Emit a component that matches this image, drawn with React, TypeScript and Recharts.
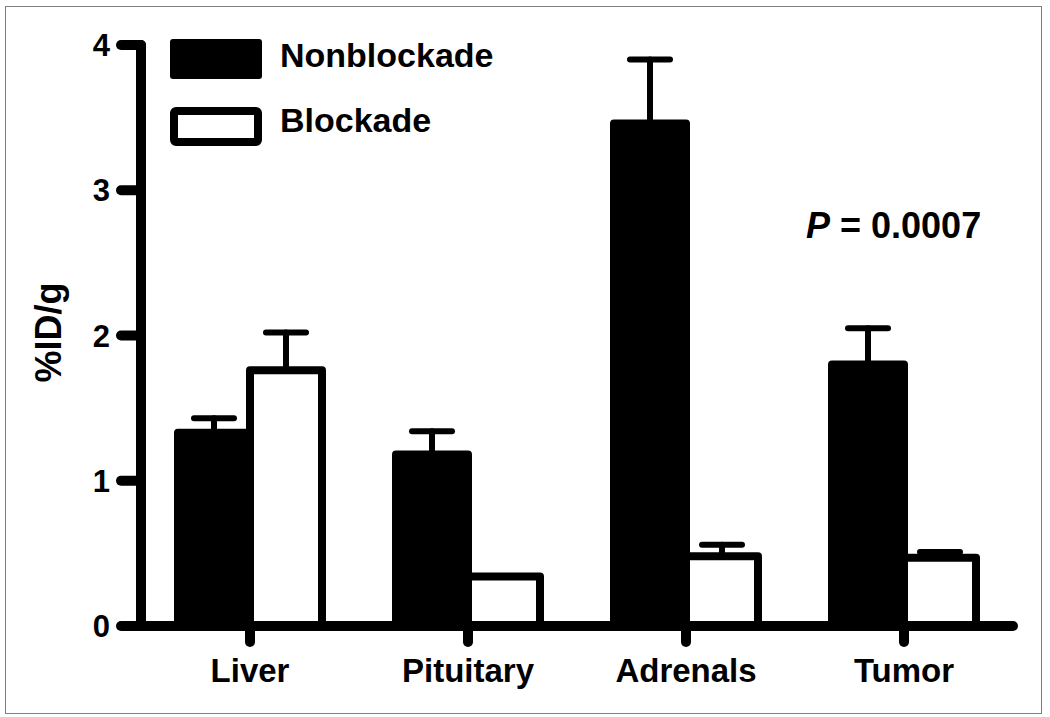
import React from 'react';
import { BarChart, Bar, XAxis, YAxis, ErrorBar, Legend } from 'recharts';

const categories = ['Liver', 'Pituitary', 'Adrenals', 'Tumor'];
const nonblockade = [1.33, 1.18, 3.46, 1.8];
const nonblockadeErr = [0.1, 0.16, 0.44, 0.25];
const blockade = [1.76, 0.34, 0.48, 0.47];
const blockadeErr = [0.26, 0, 0.08, 0.04];
const yTicks = [0, 1, 2, 3, 4];
const seriesNames = ['Nonblockade', 'Blockade'];
const pText = '0.0007';

const data = categories.map((name, i) => ({
  name,
  nb: nonblockade[i],
  nbErr: [0, nonblockadeErr[i]],
  b: blockade[i],
  bErr: [0, blockadeErr[i]],
}));

const FONT = '"Liberation Sans", Arial, Helvetica, sans-serif';
const AXW = 10;
const BARW = 8;
const ERRW = 6;

const LegendContent = (props: any) => {
  const payload = [...(props.payload || [])].sort(
    (a: any, b: any) => seriesNames.indexOf(a.value) - seriesNames.indexOf(b.value)
  );
  return (
    <svg width={420} height={120} style={{ display: 'block' }}>
      {payload.map((entry: any, i: number) => {
        const filled = i === 0;
        const y0 = i === 0 ? 6 : 74;
        return (
          <g key={entry.value}>
            {filled ? (
              <rect x={6} y={y0} width={92} height={40} rx={3} fill="#000" />
            ) : (
              <rect x={10} y={y0 + 4} width={84} height={31} rx={2} fill="#fff" stroke="#000" strokeWidth={8} />
            )}
            <text x={116} y={i === 0 ? 34 : 99} fontFamily={FONT} fontWeight="bold" fontSize={34} fill="#000">
              {entry.value}
            </text>
          </g>
        );
      })}
    </svg>
  );
};

const YLabel = (props: any) => {
  const vb = props.viewBox || { x: 0, y: 45, width: 141, height: 581 };
  const cx = 48;
  const cy = vb.y + vb.height / 2 - 3;
  return (
    <text
      x={cx}
      y={cy}
      transform={`rotate(-90, ${cx}, ${cy})`}
      textAnchor="middle"
      dominantBaseline="central"
      fontFamily={FONT}
      fontWeight="bold"
      fontSize={36}
      fill="#000"
    >
      %ID/g
    </text>
  );
};

export default function App() {
  return (
    <div style={{ position: 'absolute', left: 0, top: 0, width: 1050, height: 717, background: '#fff' }}>
      <div
        style={{
          position: 'absolute',
          left: 5,
          top: 6,
          width: 1037,
          height: 708,
          border: '1.5px solid #808080',
          boxSizing: 'border-box',
        }}
      />
      <div style={{ position: 'absolute', left: 0, top: 0 }}>
        <BarChart
          width={1050}
          height={717}
          data={data}
          margin={{ top: 45, right: 37, bottom: 31, left: 0 }}
          barGap={0}
          barSize={72}
        >
          <XAxis
            dataKey="name"
            height={60}
            padding={{ left: 0, right: 0 }}
            stroke="#000"
            strokeWidth={AXW}
            axisLine={{ stroke: '#000', strokeWidth: AXW, strokeLinecap: 'round' }}
            tickLine={{ stroke: '#000', strokeWidth: AXW, strokeLinecap: 'round' }}
            tickSize={16}
            tickMargin={17}
            tick={{ fill: '#000', stroke: 'none', fontFamily: FONT, fontWeight: 'bold', fontSize: 33 }}
            interval={0}
          />
          <YAxis
            width={141}
            domain={[0, 4]}
            ticks={yTicks}
            type="number"
            allowDataOverflow
            stroke="#000"
            strokeWidth={AXW}
            axisLine={{ stroke: '#000', strokeWidth: AXW, strokeLinecap: 'round' }}
            tickLine={{ stroke: '#000', strokeWidth: AXW, strokeLinecap: 'round' }}
            tickSize={20}
            tickMargin={11}
            tick={{ fill: '#000', stroke: 'none', fontFamily: FONT, fontWeight: 'bold', fontSize: 31 }}
            label={{ content: YLabel }}
          />
          <Legend
            layout="horizontal"
            align="center"
            verticalAlign="middle"
            wrapperStyle={{ left: 164, top: 33, width: 420, height: 120 }}
            content={LegendContent}
          />
          <Bar
            dataKey="nb"
            name={seriesNames[0]}
            fill="#000"
            stroke="#000"
            strokeWidth={BARW}
            strokeLinejoin="round"
            isAnimationActive={false}
          >
            <ErrorBar dataKey="nbErr" direction="y" width={20} stroke="#000" strokeWidth={ERRW} strokeLinecap="round" isAnimationActive={false} />
          </Bar>
          <Bar
            dataKey="b"
            name={seriesNames[1]}
            fill="#fff"
            stroke="#000"
            strokeWidth={BARW}
            strokeLinejoin="round"
            isAnimationActive={false}
          >
            <ErrorBar dataKey="bErr" direction="y" width={20} stroke="#000" strokeWidth={ERRW} strokeLinecap="round" isAnimationActive={false} />
          </Bar>
        </BarChart>
      </div>
      <svg width={1050} height={717} style={{ position: 'absolute', left: 0, top: 0, pointerEvents: 'none' }}>
        <text x={806} y={238} fontFamily={FONT} fontWeight="bold" fontSize={36} fill="#000">
          <tspan fontStyle="italic">P</tspan>
          <tspan>{` = ${pText}`}</tspan>
        </text>
      </svg>
    </div>
  );
}
